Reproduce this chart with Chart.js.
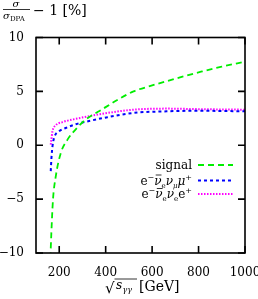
<!DOCTYPE html>
<html>
<head>
<meta charset="utf-8">
<script src="https://cdn.jsdelivr.net/npm/chart.js@4"></script>
<style>
  html, body { margin: 0; padding: 0; background: #fff; }
  #wrap { width: 258px; height: 299px; }
</style>
</head>
<body>
<div id="wrap"><canvas id="chart" width="258" height="299"></canvas></div>
<script>
// values (x in GeV, y in %)
var signalX = [162, 166, 173, 185, 207, 235, 272, 315, 375, 450, 520, 600, 663, 720, 807, 900, 1000];
var signalY = [-10.5, -8.2, -5.1, -2.9, -0.7, 0.5, 1.5, 2.4, 3.2, 4.2, 5.0, 5.55, 5.95, 6.3, 6.8, 7.3, 7.75];
var muX = [163.5, 166.5, 171, 178, 199.5, 228, 271.5, 329, 394, 519, 663, 800, 1000];
var muY = [-2.4, -1.2, -0.1, 0.7, 1.3, 1.6, 1.95, 2.25, 2.55, 3.0, 3.15, 3.2, 3.15];
var eX = [163.5, 166, 171, 185, 214, 271.5, 329, 394, 519, 663, 800, 1000];
var eY = [0.05, 0.5, 1.3, 1.85, 2.15, 2.45, 2.7, 2.95, 3.3, 3.4, 3.35, 3.3];
var xTicks = [200, 400, 600, 800, 1000];
var yTicks = [-10, -5, 0, 5, 10];

var legendLabels = ['signal', 'mu', 'e'];
var serif = '"DejaVu Serif", "Liberation Serif", serif';

function pts(xs, ys) {
    return xs.map(function (x, i) { return { x: x, y: ys[i] }; });
}

// right-aligned run of text pieces [text, size, drop, italic, bar]
function drawRun(ctx, right, base, parts) {
    var w = 0;
    parts.forEach(function (p) {
        ctx.font = (p[3] ? 'italic ' : '') + p[1] + 'px ' + serif;
        p.w = ctx.measureText(p[0]).width;
        w += p.w;
    });
    var x = right - w;
    ctx.textAlign = 'left';
    parts.forEach(function (p) {
        ctx.font = (p[3] ? 'italic ' : '') + p[1] + 'px ' + serif;
        ctx.fillText(p[0], x, base + p[2]);
        if (p[4]) {
            ctx.lineWidth = 0.8;
            ctx.beginPath();
            ctx.moveTo(x + 1.5, base - 9.5); ctx.lineTo(x + p.w, base - 9.5);
            ctx.stroke();
        }
        x += p.w;
    });
}

// draws the box, inward ticks on all four sides, titles and legend
var decor = {
    id: 'decor',
    afterDatasetsDraw: function (chart) {
        var ctx = chart.ctx, a = chart.chartArea;
        var xs = chart.scales.x, ys = chart.scales.y;
        ctx.save();
        ctx.strokeStyle = '#000';
        ctx.lineWidth = 1.6;
        ctx.strokeRect(a.left, a.top, a.right - a.left, a.bottom - a.top);
        var t = 7;
        ctx.beginPath();
        xTicks.forEach(function (v) {
            var p = xs.getPixelForValue(v);
            ctx.moveTo(p, a.bottom); ctx.lineTo(p, a.bottom - t);
            ctx.moveTo(p, a.top); ctx.lineTo(p, a.top + t);
        });
        yTicks.forEach(function (v) {
            var p = ys.getPixelForValue(v);
            ctx.moveTo(a.left, p); ctx.lineTo(a.left + t, p);
            ctx.moveTo(a.right, p); ctx.lineTo(a.right - t, p);
        });
        ctx.stroke();

        // y title: sigma / sigma_DPA - 1 [%]
        ctx.fillStyle = '#000';
        ctx.textBaseline = 'alphabetic';
        ctx.textAlign = 'center';
        ctx.font = 'italic 10px ' + serif;
        ctx.fillText('σ', 16, 7);
        ctx.lineWidth = 0.8;
        ctx.beginPath(); ctx.moveTo(3, 9.5); ctx.lineTo(30, 9.5); ctx.stroke();
        ctx.textAlign = 'left';
        ctx.fillText('σ', 3, 19);
        ctx.font = '7px ' + serif;
        ctx.fillText('DPA', 10, 21);
        ctx.font = '14px ' + serif;
        ctx.fillText('− 1 [%]', 33, 15);

        // x title: sqrt(s_yy) [GeV]
        ctx.font = '15px ' + serif;
        ctx.fillText('√', 105, 293);
        ctx.lineWidth = 0.8;
        ctx.beginPath(); ctx.moveTo(114.5, 279); ctx.lineTo(137, 279); ctx.stroke();
        ctx.font = 'italic 12px ' + serif;
        ctx.fillText('s', 116, 289);
        ctx.font = 'italic 8px ' + serif;
        ctx.fillText('γγ', 122.5, 292);
        ctx.font = '14px ' + serif;
        ctx.fillText('[GeV]', 139, 291);

        // legend
        var rows = [165, 180.5, 194];
        ctx.textAlign = 'right';
        ctx.font = '12px ' + serif;
        ctx.fillText('signal', 192, rows[0] + 4);
        drawRun(ctx, 192, rows[1] + 4, [['e', 12, 0], ['−', 8, -5], ['ν', 12, 0, 1, 1], ['e', 7, 3], ['ν', 12, 0, 1], ['μ', 7, 3, 1], ['μ', 12, 0, 1], ['+', 8, -5]]);
        drawRun(ctx, 192, rows[2] + 4, [['e', 12, 0], ['−', 8, -5], ['ν', 12, 0, 1, 1], ['e', 7, 3], ['ν', 12, 0, 1], ['e', 7, 3], ['e', 12, 0], ['+', 8, -5]]);
        chart.data.datasets.forEach(function (d, i) {
            ctx.strokeStyle = d.borderColor;
            ctx.lineWidth = d.borderWidth;
            ctx.setLineDash(d.borderDash);
            ctx.beginPath();
            ctx.moveTo(198, rows[i]); ctx.lineTo(233, rows[i]);
            ctx.stroke();
        });
        ctx.restore();
    }
};

new Chart(document.getElementById('chart').getContext('2d'), {
    type: 'line',
    data: {
        datasets: [{
            label: legendLabels[0],
            data: pts(signalX, signalY),
            borderColor: '#00ee00',
            borderWidth: 1.8,
            borderDash: [6, 4]
        }, {
            label: legendLabels[1],
            data: pts(muX, muY),
            borderColor: '#0000ff',
            borderWidth: 2,
            borderDash: [3, 3]
        }, {
            label: legendLabels[2],
            data: pts(eX, eY),
            borderColor: '#ff00ff',
            borderWidth: 2,
            borderDash: [1.5, 1.5]
        }]
    },
    plugins: [decor],
    options: {
        responsive: false,
        animation: false,
        layout: { padding: { left: 0, top: 37.5, right: 13, bottom: 0 } },
        elements: {
            point: { radius: 0 },
            line: { cubicInterpolationMode: 'monotone', fill: false }
        },
        plugins: {
            legend: { display: false },
            tooltip: { enabled: false }
        },
        scales: {
            x: {
                type: 'linear',
                min: 100,
                max: 1000,
                afterBuildTicks: function (s) { s.ticks = xTicks.map(function (v) { return { value: v }; }); },
                afterFit: function (s) { s.height = 46; s.paddingLeft = 0; s.paddingRight = 0; },
                grid: { display: false },
                border: { display: false },
                ticks: {
                    color: '#000',
                    font: { family: serif, size: 12 },
                    padding: 5,
                    maxRotation: 0,
                    callback: function (v) { return String(v); }
                }
            },
            y: {
                min: -10,
                max: 10,
                afterBuildTicks: function (s) { s.ticks = yTicks.map(function (v) { return { value: v }; }); },
                afterFit: function (s) { s.width = 36; s.paddingTop = 0; s.paddingBottom = 0; },
                grid: { display: false },
                border: { display: false },
                ticks: {
                    color: '#000',
                    font: { family: serif, size: 12 },
                    padding: 4,
                    callback: function (v) { return String(v).replace('-', '−'); }
                }
            }
        }
    }
});
</script>
</body>
</html>
